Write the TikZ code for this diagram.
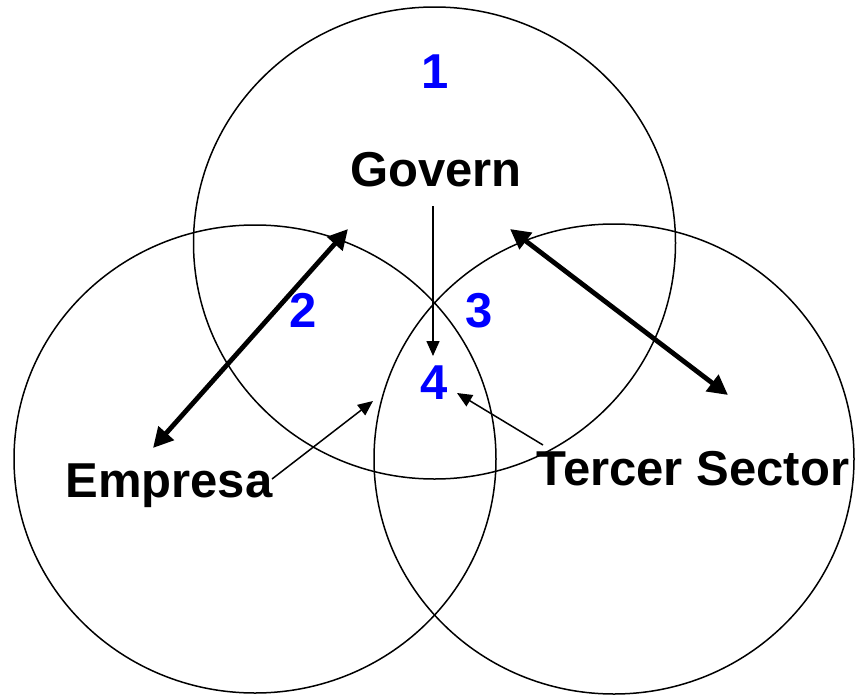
\documentclass[tikz,border=0pt]{standalone}
\usepackage{fontspec}
\setmainfont{Liberation Sans}
\usetikzlibrary{arrows.meta}
\definecolor{numblue}{RGB}{0,0,255}
\tikzset{
  ring/.style={draw=black, line width=1.5pt},
  lbl/.style={font=\fontsize{49}{52}\selectfont\bfseries, inner sep=0pt, anchor=base, text=black},
  num/.style={font=\fontsize{49}{52}\selectfont\bfseries, inner sep=0pt, anchor=base, text=numblue},
  bigarrow/.style={line width=4.8pt, {Triangle[length=20pt,width=20pt]}-{Triangle[length=20pt,width=20pt]}},
  thinarrow/.style={line width=1.5pt, -{Triangle[length=15pt,width=13pt]}}
}
\begin{document}
\begin{tikzpicture}[x=1pt,y=-1pt]
\useasboundingbox (0,0) rectangle (855,699);
% circles
\draw[ring] (434.5,243) ellipse [x radius=241pt, y radius=236pt];
\draw[ring] (255,459) ellipse [x radius=241pt, y radius=234pt];
\draw[ring] (614,459) ellipse [x radius=240pt, y radius=235pt];
% labels
\node[lbl] (govern) at (436,186) {Govern};
\node[lbl] (empresa) at (169,497) {Empresa};
\node[lbl] (tercer) at (693,485) {Tercer Sector};
\node[num] (n1) at (435,88) {1};
\node[num] (n2) at (303,327) {2};
\node[num] (n3) at (479,327) {3};
\node[num] (n4) at (434,399) {4};
% arrow end points
\coordinate (eA) at (153,448);
\coordinate (gA) at (348,229);
\coordinate (gB) at (510,229);
\coordinate (tB) at (728,395);
\coordinate (gC) at (433,206);
\coordinate (fC) at (433,356);
\coordinate (eD) at (272,479);
\coordinate (fD) at (373,401);
\coordinate (tE) at (543,445);
\coordinate (fE) at (457,393);
% arrows
\draw[bigarrow] (eA) -- (gA);
\draw[bigarrow] (gB) -- (tB);
\draw[thinarrow] (gC) -- (fC);
\draw[thinarrow] (eD) -- (fD);
\draw[thinarrow] (tE) -- (fE);
\end{tikzpicture}
\end{document}
